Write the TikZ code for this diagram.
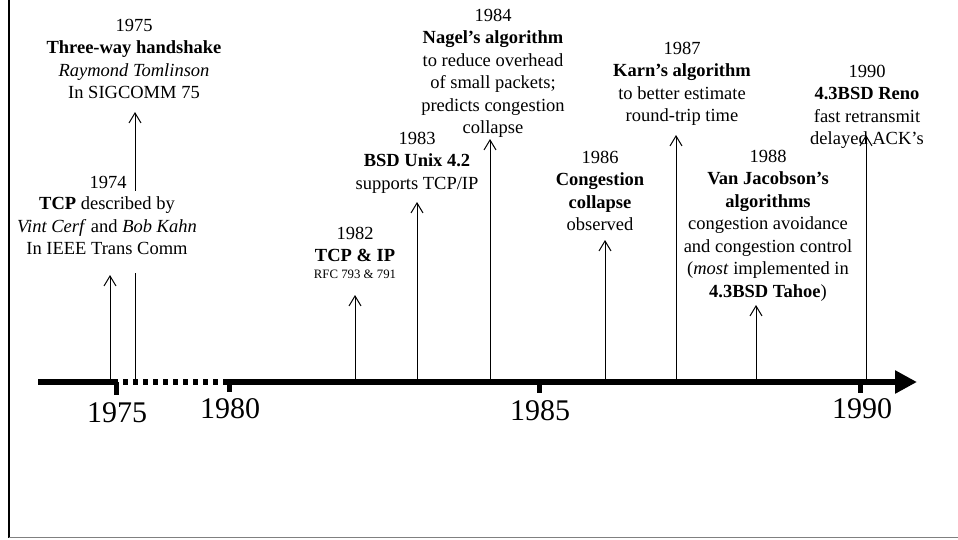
\documentclass[tikz,border=0pt]{standalone}
\usepackage{fontspec}
\setmainfont{Liberation Serif}
\usetikzlibrary{arrows.meta,calc}
\pgfdeclarelayer{back}
\pgfsetlayers{back,main}
\begin{document}
\begin{tikzpicture}[x=1pt,y=-1pt,
  event/.style={anchor=north, inner sep=0pt, align=center,
                font=\fontsize{18.5}{22.5}\selectfont},
  conn/.style={line width=1pt, -{Straight Barb[length=10pt,width=12pt]}},
  axisline/.style={line width=6pt},
  yeartick/.style={line width=5pt},
  yearlabel/.style={anchor=base, inner sep=0pt,
                    font=\fontsize{30}{36}\selectfont}]
\useasboundingbox (0,0) rectangle (958,539);

% frame
\draw[line width=2.5pt] (9,0) -- (9,538);
\draw[black!50, line width=1.2pt] (9,537.6) -- (958,537.6);

% event descriptions
\node[event] (e75) at (134,18.7)
  {1975\\\textbf{Three-way handshake}\\\textit{Raymond Tomlinson}\\In SIGCOMM 75};
\node[event] (y74) at (108,175.7) {1974};
\node[event] (e74) at (107,196.5)
  {\textbf{TCP} described by\\\textit{Vint Cerf} and \textit{Bob Kahn}\\In IEEE Trans Comm};
\node[event] (e82) at (355,226.7)
  {1982\\\textbf{TCP \& IP}\\[-5.5pt]{\fontsize{12.8}{15}\selectfont RFC 793 \& 791}};
\node[event] (e83) at (417,131.7)
  {1983\\\textbf{BSD Unix 4.2}\\supports TCP/IP};
\node[event] (e84) at (493,8.7)
  {1984\\\textbf{Nagel's algorithm}\\to reduce overhead\\of small packets;\\predicts congestion\\collapse};
\node[event] (e86) at (600,150.7)
  {1986\\\textbf{Congestion}\\\textbf{collapse}\\observed};
\node[event] (e87) at (682,41.7)
  {1987\\\textbf{Karn's algorithm}\\to better estimate\\round-trip time};
\node[event] (e88) at (768,149.7)
  {1988\\\textbf{Van Jacobson's}\\\textbf{algorithms}\\congestion avoidance\\and congestion control\\(\textit{most} implemented in\\\textbf{4.3BSD Tahoe})};
\node[event] (e90) at (867,64.7)
  {1990\\\textbf{4.3BSD Reno}\\fast retransmit\\delayed ACK's};

% connector ends: on the axis and at the arrow tips
\coordinate (b74) at (110,380); \coordinate (t74) at (110,275);
\coordinate (b75) at (135,380); \coordinate (t75) at (135,112);
\coordinate (b82) at (355,380); \coordinate (t82) at (355,295);
\coordinate (b83) at (417,380); \coordinate (t83) at (417,202);
\coordinate (b84) at (490,380); \coordinate (t84) at (490,139);
\coordinate (b86) at (605,380); \coordinate (t86) at (605,240);
\coordinate (b87) at (676,380); \coordinate (t87) at (676,135);
\coordinate (b88) at (756,380); \coordinate (t88) at (756,305);
\coordinate (b90) at (866,380); \coordinate (t90) at (866,135);

% the 1975 line runs behind the 1974 text block
\begin{pgfonlayer}{back}
  \draw[conn] (b75) -- (t75);
  \fill[white] ($(e74.north west)+(-3,-6)$) rectangle ($(e74.south east)+(3,18)$);
\end{pgfonlayer}

\draw[conn] (b74) -- (t74);
\draw[conn] (b82) -- (t82);
\draw[conn] (b83) -- (t83);
\draw[conn] (b84) -- (t84);
\draw[conn] (b86) -- (t86);
\draw[conn] (b87) -- (t87);
\draw[conn] (b88) -- (t88);
\draw[conn] (b90) -- (t90);

% time axis
\draw[axisline] (38,382) -- (118,382);
\draw[axisline, dash pattern=on 5pt off 5pt] (123,382) -- (226,382);
\draw[axisline, -{Triangle[length=22pt,width=22pt]}] (226,382) -- (917,382);

\draw[yeartick] (116,382) -- (116,395);
\draw[yeartick] (229.5,382) -- (229.5,392);
\draw[yeartick] (539.5,382) -- (539.5,393);
\draw[yeartick] (860.5,382) -- (860.5,393);

\node[yearlabel] (l75) at (117,422) {1975};
\node[yearlabel] (l80) at (230,418) {1980};
\node[yearlabel] (l85) at (540,420) {1985};
\node[yearlabel] (l90) at (862,418) {1990};
\end{tikzpicture}
\end{document}
